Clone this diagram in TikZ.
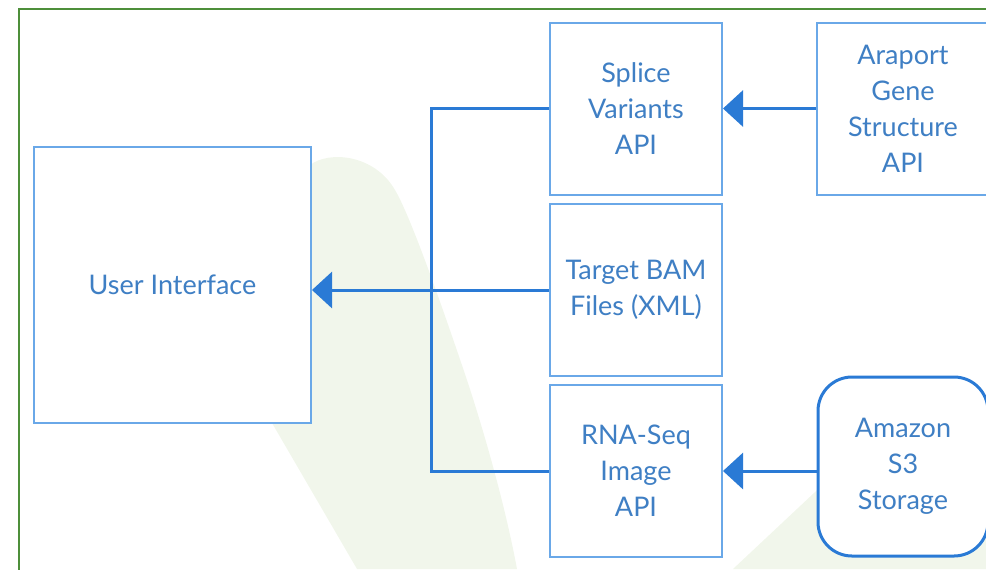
\documentclass[tikz,border=0pt]{standalone}
\usepackage{fontspec}
\setmainfont{Lato}
\definecolor{acc}{HTML}{2A7AD5}
\definecolor{accl}{HTML}{6AA8E8}
\definecolor{txt}{HTML}{3F7FC4}
\definecolor{leaf}{HTML}{F1F6EB}
\definecolor{frame}{HTML}{4E8F3A}
\usetikzlibrary{arrows.meta,positioning}
\tikzset{
  >={Triangle[length=10pt,width=18pt]},
  box/.style={draw=accl,line width=1pt,fill=white,inner sep=0pt,minimum width=86pt,minimum height=86pt,
    font=\fontsize{13.5}{18}\selectfont,text=txt,align=center},
  rbox/.style={box,draw=acc,line width=1.5pt,rounded corners=17pt},
  arr/.style={->,draw=acc,line width=1.5pt},
  bus/.style={draw=acc,line width=1.5pt},
}
\begin{document}
\begin{tikzpicture}[x=0.5pt,y=-0.5pt]
\useasboundingbox (0,0) rectangle (986,569);
\clip (0,0) rectangle (986,569);
% faint leaves behind
\fill[leaf] (357,569) -- (272,423) .. controls (248,330) and (262,200) .. (310,165)
  .. controls (330,150) and (375,155) .. (395,190) .. controls (410,215) and (440,300) .. (467,380)
  .. controls (490,450) and (508,520) .. (517,569) -- cycle;
\fill[leaf] (733,569) -- (830,478) -- (986,400) -- (986,569) -- cycle;
\draw[frame,line width=1.4pt] (19,580) -- (19,9) -- (1000,9);
% boxes
\node[box,minimum width=138.5pt,minimum height=138pt] (ui) at (172.5,285) {User Interface};
\node[box] (splice) at (636,108.5) {Splice\\Variants\\API};
\node[box] (bam) at (636,290) {Target BAM\\Files (XML)};
\node[box] (rna) at (636,471) {RNA-Seq\\Image\\API};
\node[box] (araport) at (903,108.5) {Araport\\Gene\\Structure\\API};
\node[rbox,minimum width=85pt,minimum height=89.5pt] (s3) at (903,466.5) {Amazon\\S3\\Storage};
% links
\coordinate (busx) at (431,0);
\draw[bus] (splice.west) -- (splice.west -| busx) -- (rna.west -| busx) -- (rna.west);
\draw[arr] (bam.west) -- (bam.west -| ui.east);
\draw[arr] (araport.west) -- (splice.east);
\draw[arr] (rna.east -| s3.west) -- (rna.east);
\end{tikzpicture}
\end{document}
